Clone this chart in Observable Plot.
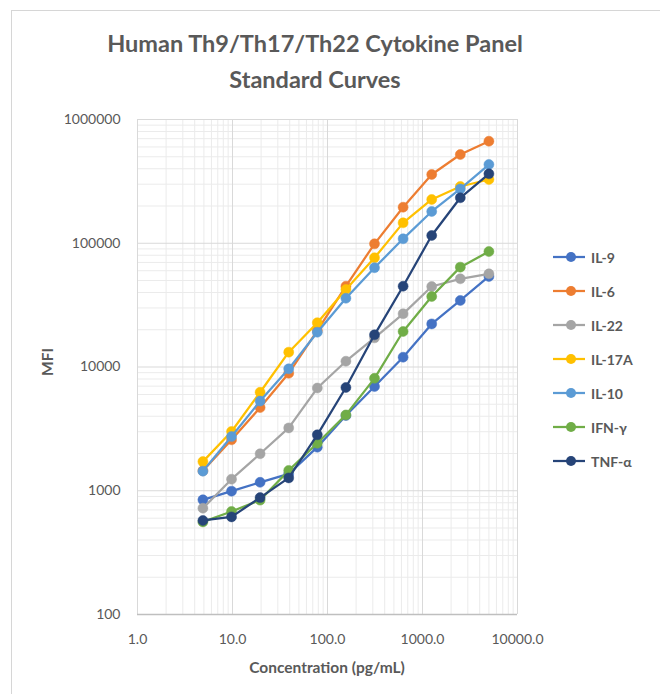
<!DOCTYPE html>
<html>
<head>
<meta charset="utf-8">
<script src="https://cdn.jsdelivr.net/npm/d3@7"></script>
<script src="https://cdn.jsdelivr.net/npm/@observablehq/plot@0.6"></script>
<style>
  html, body { margin: 0; padding: 0; background: #fff; }
  #wrap { position: relative; width: 660px; height: 694px; overflow: hidden; font-family: Lato, "Open Sans", sans-serif; }
  #frame { position: absolute; left: 11px; top: 10px; width: 700px; height: 720px; border: 1px solid #d6d6d6; box-sizing: border-box; }
  .t { position: absolute; color: #595959; font-weight: bold; white-space: nowrap; }
  #title1, #title2 { font-size: 23.5px; left: 0; width: 630px; text-align: center; }
  #title1 { top: 29px; }
  #title2 { top: 65px; }
  #xlabel { font-size: 15.5px; left: 327px; top: 658px; transform: translateX(-50%); }
  #ylabel { font-size: 15.5px; left: 47px; top: 362px; transform: translate(-50%, -50%) rotate(-90deg); }
  #legend { position: absolute; left: 550px; top: 240px; }
  #chart { position: absolute; left: 0; top: 0; }
</style>
</head>
<body>
<div id="wrap">
  <div id="frame"></div>
  <div id="chart"></div>
  <div class="t" id="title1">Human Th9/Th17/Th22 Cytokine Panel</div>
  <div class="t" id="title2">Standard Curves</div>
  <div class="t" id="xlabel">Concentration (pg/mL)</div>
  <div class="t" id="ylabel">MFI</div>
  <div id="legend"></div>
</div>
<script>
// ---- data ----
const concentrations = [4.88, 9.77, 19.53, 39.06, 78.13, 156.25, 312.5, 625, 1250, 2500, 5000];

const seriesNames = ["IL-9", "IL-6", "IL-22", "IL-17A", "IL-10", "IFN-γ", "TNF-α"];
const seriesColors = ["#4472C4", "#ED7D31", "#A5A5A5", "#FFC000", "#5B9BD5", "#70AD47", "#264478"];

const il9   = [845, 993, 1170, 1370, 2250, 4050, 6950, 12000, 22300, 34500, 53900];
const il6   = [1450, 2580, 4700, 8900, 19700, 45000, 98900, 195600, 359500, 521000, 667700];
const il22  = [723, 1240, 1990, 3220, 6760, 11140, 17200, 26900, 44700, 51600, 56600];
const il17a = [1720, 3010, 6250, 13180, 22800, 42300, 76300, 146200, 225800, 287500, 327500];
const il10  = [1440, 2740, 5300, 9660, 19100, 35950, 63400, 108600, 180600, 275000, 432700];
const ifng  = [560, 680, 840, 1460, 2420, 4100, 8100, 19360, 37100, 64100, 85700];
const tnfa  = [575, 615, 880, 1270, 2830, 6830, 18200, 44950, 115500, 233000, 364000];

const xTicks = [1, 10, 100, 1000, 10000];
const yTicks = [100, 1000, 10000, 100000, 1000000];

// ---- build ----
const seriesValues = [il9, il6, il22, il17a, il10, ifng, tnfa];
const minorX = xTicks.slice(0, -1).flatMap(d => d3.range(2, 10).map(k => d * k));
const minorY = yTicks.slice(0, -1).flatMap(d => d3.range(2, 10).map(k => d * k));

const seriesMarks = seriesNames.flatMap((name, i) => {
  const rows = concentrations.map((c, j) => ({conc: c, mfi: seriesValues[i][j]}));
  return [
    Plot.line(rows, {x: "conc", y: "mfi", stroke: seriesColors[i], strokeWidth: 2.25}),
    Plot.dot(rows, {x: "conc", y: "mfi", r: 5, fill: seriesColors[i], stroke: seriesColors[i], strokeWidth: 0.5})
  ];
});

const chart = Plot.plot({
  width: 660,
  height: 694,
  marginLeft: 137,
  marginRight: 143,
  marginTop: 119,
  marginBottom: 80,
  style: {fontFamily: "Lato, 'Open Sans', sans-serif", fontSize: "14px", color: "#595959", background: "transparent"},
  x: {type: "log", domain: [1, 10000], ticks: xTicks, tickFormat: d => d.toFixed(1), tickSize: 0, tickPadding: 20, label: null},
  y: {type: "log", domain: [100, 1000000], ticks: yTicks, tickFormat: d3.format("d"), tickSize: 0, tickPadding: 17, label: null},
  marks: [
    Plot.gridX(minorX, {stroke: "#ebebeb", strokeOpacity: 1, strokeWidth: 1}),
    Plot.gridY(minorY, {stroke: "#ebebeb", strokeOpacity: 1, strokeWidth: 1}),
    Plot.gridX(xTicks, {stroke: "#d9d9d9", strokeOpacity: 1, strokeWidth: 1}),
    Plot.gridY(yTicks, {stroke: "#d9d9d9", strokeOpacity: 1, strokeWidth: 1}),
    Plot.ruleY([yTicks[0]], {stroke: "#bfbfbf", strokeWidth: 1.5}),
    ...seriesMarks
  ]
});
document.getElementById("chart").appendChild(chart);

// ---- legend ----
const legend = document.getElementById("legend");
seriesNames.forEach((name, i) => {
  const row = document.createElement("div");
  row.style.cssText = "display:flex;align-items:center;height:34px;";
  row.innerHTML =
    `<svg width="38" height="14" style="flex:none"><line x1="3" x2="35" y1="7" y2="7" stroke="${seriesColors[i]}" stroke-width="2.25"/><circle cx="21" cy="7" r="5" fill="${seriesColors[i]}"/></svg>` +
    `<span style="font:bold 14px Lato, sans-serif;color:#595959;margin-left:3px">${name}</span>`;
  legend.appendChild(row);
});
</script>
</body>
</html>
